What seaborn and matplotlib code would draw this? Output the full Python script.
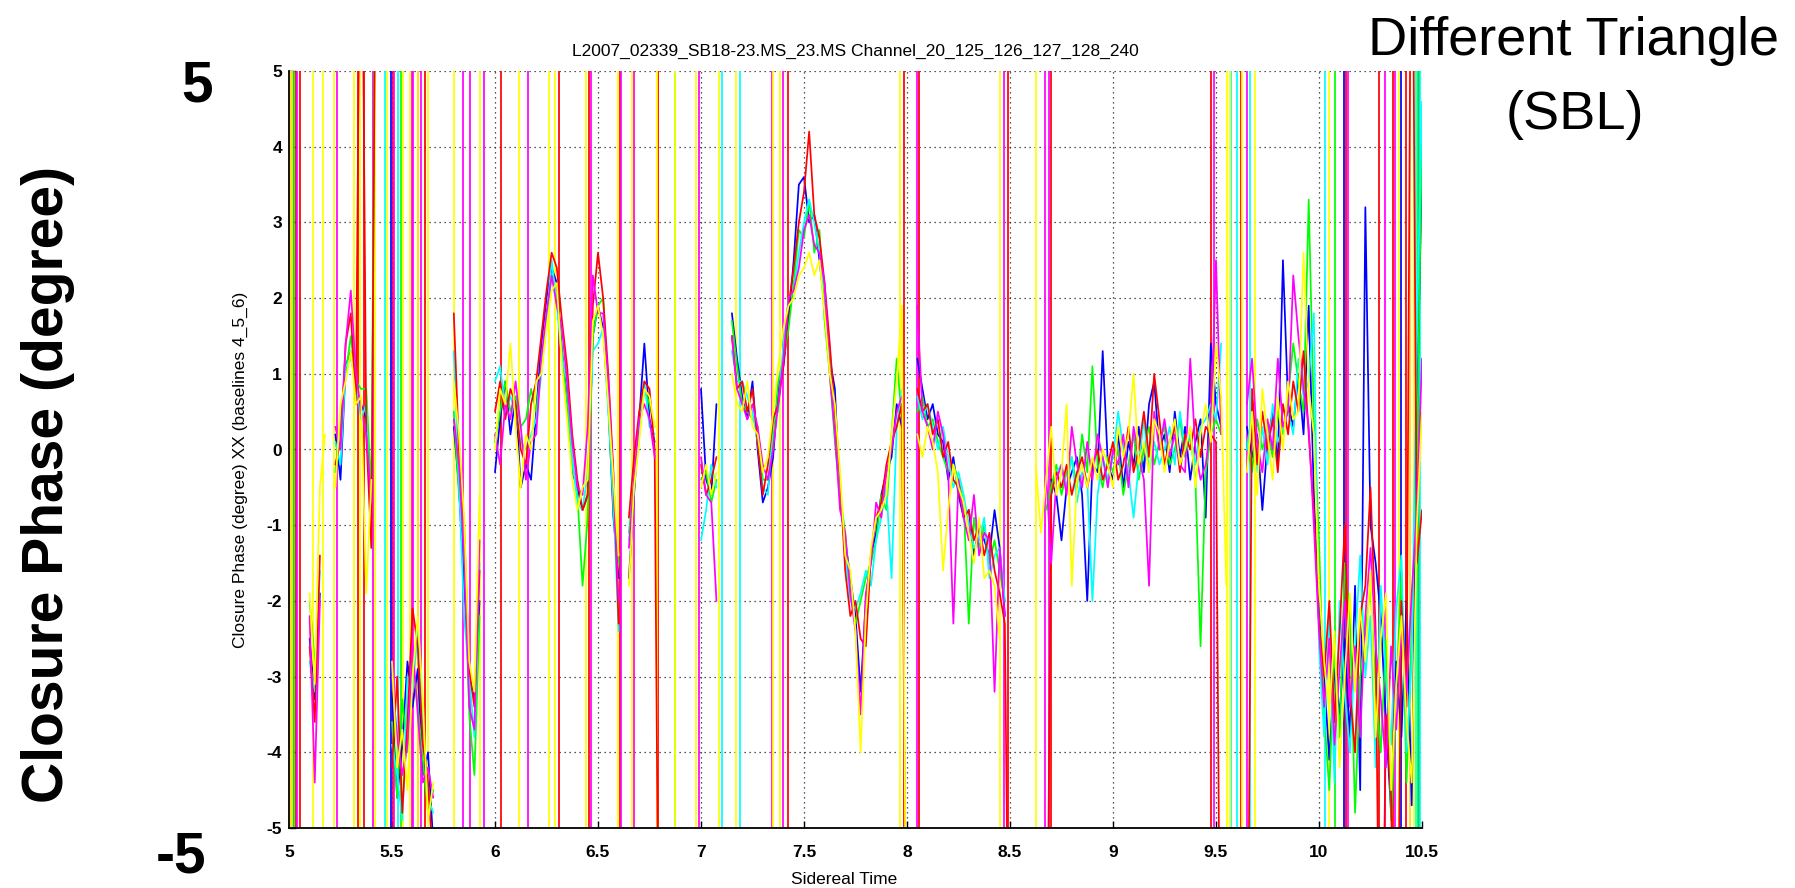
import numpy as np
import pandas as pd
import matplotlib
matplotlib.use("Agg")
import matplotlib.pyplot as plt
import seaborn as sns

nan = np.nan

# Closure phase samples (degree) on a sidereal-time grid starting at 5.0 h, 0.025 h apart.
# Values beyond +/-5 are phase wraps that run off the plotted range.
t_start, t_step = 5.0, 0.025

red = [
    nan, nan, nan, nan, -2.6, -3.6, -1.4, nan, nan, -0.2,
    0.1, 1.4, 1.8, 0.6, 9, 0.2, -1.3, 9, nan, nan,
    -4.2, -3.0, -4.8, -3.6, -2.1, -2.6, -3.9, -4.4, -5.5, nan,
    nan, nan, 1.8, 0.0, -1.0, -2.9, -3.4, -1.6, nan, nan,
    0.5, 0.9, 0.4, 0.8, 0.6, 0.0, -0.2, 0.6, 0.9, 1.5,
    2.1, 2.6, 2.4, 1.7, 1.1, 0.2, -0.4, -0.8, -0.6, 1.9,
    2.6, 2.0, 1.0, -0.3, -2.3, nan, -0.9, -0.1, 0.5, 0.9,
    0.8, 0.0, -9, nan, nan, nan, nan, nan, nan, nan,
    -0.2, -0.6, -0.4, -0.1, nan, nan, 1.5, 0.8, 0.9, 0.5,
    0.8, 0.1, -0.6, -0.2, 0.4, 0.6, 1.1, 1.9, 2.4, 3.0,
    3.4, 4.2, 3.1, 2.8, 2.2, 1.4, 0.5, -0.4, -1.6, -2.2,
    -2.0, -2.5, -2.6, -1.4, -0.9, -0.7, -0.2, 0.1, 0.3, 0.6,
    -9, nan, 0.8, 0.5, 0.6, 0.2, 0.4, -0.1, 0.1, -0.4,
    -0.5, -0.9, -0.8, -1.2, -1.0, -1.4, -1.1, -1.6, -1.9, -2.3,
    -9, nan, nan, nan, nan, nan, nan, -9, -0.6, -0.3,
    -0.5, -0.2, -0.6, -0.3, -0.1, -0.5, -0.2, 0.0, -0.4, -0.2,
    0.1, -0.4, -0.2, 0.3, -0.3, 0.0, 0.5, -0.1, 1.0, 0.4,
    -0.2, 0.1, 0.3, -0.3, 0.2, 0.0, 0.4, -0.1, 0.3, 0.2,
    0.1, -9, nan, nan, nan, nan, -9, 0.8, -0.2, 0.5,
    0.0, 0.4, -0.3, 0.6, 0.2, 0.9, 0.5, 1.3, 0.2, -0.8,
    -2.3, -3.0, -2.0, -3.6, -2.4, -1.0, -3.2, -4.0, -2.2, -1.8,
    -0.5, -2.4, -9, -3.5, -4.6, -9, -2.0, -3.4, 9, -1.5, -0.8,
]

green = [
    nan, nan, nan, nan, -2.0, -2.8, nan, nan, nan, -0.3,
    0.4, 1.0, 1.5, 0.9, 0.8, 0.8, -0.6, 9, nan, nan,
    -3.6, -4.6, -3.3, -4.0, -2.8, -3.4, -4.1, -4.8, -4.5, nan,
    nan, nan, 0.5, -0.6, -1.2, -3.5, -4.3, -2.2, nan, nan,
    0.1, 0.5, 0.9, 0.5, 0.7, 0.3, 0.4, 0.8, 0.5, 1.1,
    1.7, 2.3, 2.0, 1.3, 0.6, -0.2, -0.6, -1.8, -0.9, 1.5,
    1.9, 2.0, 0.7, -0.8, -1.5, nan, -1.1, -0.4, 0.2, 0.8,
    0.6, 0.3, nan, nan, nan, nan, nan, nan, nan, nan,
    -0.4, -0.3, -0.7, -0.4, nan, nan, 1.7, 1.1, 0.6, 0.5,
    0.4, 0.3, -0.4, -0.4, 0.1, 0.9, 1.2, 1.6, 2.2, 2.9,
    2.8, 3.3, 2.6, 2.9, 1.7, 1.0, 0.1, -0.6, -1.1, -1.9,
    -2.3, -2.0, -1.7, -1.5, -1.2, -0.6, -0.8, 0.2, 1.2, 0.4,
    nan, nan, 0.5, 0.7, 0.3, 0.4, 0.1, -0.1, -0.3, -0.2,
    -0.4, -0.7, -2.3, -0.9, -1.3, -1.0, -1.5, -1.2, -1.6, -2.0,
    nan, nan, nan, nan, nan, nan, nan, -0.8, -0.5, -0.2,
    -0.6, -0.3, -0.1, -0.5, 0.2, -0.3, 1.1, -0.2, -0.5, -0.1,
    -0.3, 0.0, -0.6, -0.2, 0.2, -0.4, 0.0, 0.3, -0.2, 0.1,
    0.3, -0.2, 0.0, 0.4, -0.1, 0.2, -0.4, -2.6, -0.3, 0.2,
    0.4, 0.2, nan, nan, nan, nan, 0.1, -0.3, 0.4, 0.0,
    0.3, -0.1, 0.5, 0.2, 0.7, 1.4, 0.9, 0.5, 3.3, 0.4,
    -1.2, -3.5, -4.5, -2.6, -3.8, -1.5, -2.2, -4.8, -3.0, -2.4,
    -1.8, -3.2, -4.0, -2.5, -4.9, -3.2, -1.6, -4.4, -2.4, -0.2, 4.2,
]

blue = [
    nan, nan, nan, nan, -2.5, -3.3, -1.9, nan, nan, 0.2,
    -0.4, 1.1, 1.3, 0.8, 0.6, 0.4, -0.9, nan, nan, nan,
    -3.2, -4.6, -3.9, -2.8, -3.4, -2.9, -4.3, -4.0, -5.2, nan,
    nan, nan, 0.3, -0.5, -1.8, -3.0, -3.3, -2.0, nan, nan,
    -0.3, 0.4, 0.9, 0.2, 0.7, -0.5, -0.2, -0.4, 0.5, 1.4,
    2.0, 2.4, 2.2, 1.3, 0.7, -0.3, -0.5, -0.8, -0.6, 1.5,
    1.9, 1.6, 0.6, -0.9, -1.7, nan, -1.7, -0.6, 0.4, 1.4,
    0.4, 0.1, nan, nan, nan, nan, nan, nan, nan, nan,
    0.8, -0.4, -0.6, 0.6, nan, nan, 1.8, 1.2, 0.7, 0.4,
    0.9, 0.0, -0.7, -0.5, -0.1, 0.8, 1.1, 1.7, 2.5, 3.5,
    3.6, 3.0, 3.1, 2.5, 1.9, 1.2, 0.8, -0.7, -1.2, -1.7,
    -2.2, -3.2, -2.0, -1.4, -1.1, -0.6, -0.3, -0.1, 0.6, 0.3,
    nan, nan, 1.2, 0.8, 0.4, 0.6, 0.2, 0.1, -0.4, -0.1,
    -0.6, -0.9, -0.8, -1.4, -1.0, -1.2, -1.4, -0.8, -1.3, -2.2,
    nan, nan, nan, nan, nan, nan, nan, nan, -0.4, -0.6,
    -1.2, -0.5, -0.3, -0.1, -0.6, -2.0, -0.2, -0.3, 1.3, -0.2,
    -0.4, 0.2, -0.5, 0.1, -0.2, 0.3, -0.3, 0.6, 0.9, 0.0,
    0.2, -0.3, 0.5, -0.1, 0.3, -0.4, 0.1, 0.4, -0.9, 1.4,
    0.6, 0.3, nan, nan, nan, nan, 0.3, -0.1, 0.2, -0.8,
    0.1, 0.5, -0.2, 2.5, 0.6, 0.3, 1.0, 0.2, 1.9, -0.6,
    -2.0, -3.0, -4.1, -2.9, -3.5, -2.5, -3.8, -1.8, -4.5, 3.2,
    -1.0, -1.5, -2.2, -3.6, -4.8, -2.8, -3.8, -2.0, -4.7, 0.4, 3.8,
]

cyan = [
    nan, nan, nan, nan, -2.8, -3.2, -1.6, nan, nan, 0.1,
    -0.2, 1.1, 1.2, 0.9, 0.4, 0.6, -1.3, nan, nan, nan,
    -3.9, -4.3, -4.9, -3.0, -3.2, -2.4, -3.6, -4.6, -4.8, nan,
    nan, nan, 1.3, -0.4, -2.2, -3.0, -3.8, -1.5, nan, nan,
    0.9, 1.1, 0.5, 0.7, 0.5, 0.1, 0.0, 0.2, 0.4, 1.0,
    1.7, 2.5, 1.9, 1.2, 0.9, -0.1, -0.7, -0.8, -0.3, 1.3,
    1.4, 1.6, 0.5, -0.7, -2.4, nan, -1.2, -0.5, 0.2, 0.9,
    0.3, 0.2, nan, nan, nan, nan, nan, nan, nan, nan,
    -1.2, -0.8, -0.2, -0.5, nan, nan, 1.3, 0.9, 0.9, 0.7,
    0.5, 0.1, -0.5, -0.6, 0.4, 0.5, 1.4, 2.0, 2.1, 2.6,
    3.0, 3.3, 3.0, 2.6, 2.1, 1.3, 0.4, -0.5, -1.4, -2.0,
    -2.1, -1.9, -1.6, -1.8, -1.2, -0.9, -0.5, -1.7, 0.3, 0.8,
    nan, nan, 0.7, 0.4, 0.6, 0.3, 0.0, 0.3, -0.1, -0.5,
    -0.3, -0.6, -1.0, -1.3, -1.2, -0.9, -1.7, -1.4, -1.3, -2.0,
    nan, nan, nan, nan, nan, nan, nan, nan, -0.6, -0.3,
    -0.2, -0.5, -0.1, -0.7, -0.3, -0.4, -2.0, -0.6, -0.1, -0.4,
    -0.1, 0.5, 0.0, -0.3, -0.9, -0.2, 0.4, -0.3, 0.1, -0.2,
    0.0, 0.3, -0.2, 0.5, 0.0, 0.2, -0.2, 0.3, 0.4, 0.6,
    0.4, 1.4, nan, nan, nan, nan, 0.0, 0.5, -0.3, 0.3,
    -0.2, 0.6, 0.1, 0.3, 0.5, 0.2, 1.2, 0.7, 0.9, 1.8,
    -2.6, -3.8, -2.2, -4.4, -2.0, -3.2, -4.0, -2.6, -1.4, -3.0,
    -2.2, -4.2, -1.8, -3.0, -3.9, -2.1, -1.4, -4.0, -2.8, 1.5, 4.6,
]

magenta = [
    nan, nan, nan, nan, -2.2, -4.4, -2.0, nan, nan, 0.3,
    0.0, 1.4, 2.1, 1.0, 0.5, 0.2, -0.7, nan, nan, nan,
    -3.0, -3.8, -4.3, -3.9, -2.6, -3.5, -4.4, -4.2, -4.6, nan,
    nan, nan, 0.4, -0.2, -1.4, -3.4, -3.7, -1.2, nan, nan,
    0.2, -0.2, 0.6, 0.4, 0.9, 0.3, -0.4, 0.1, 0.2, 1.2,
    1.8, 2.3, 1.9, 1.6, 0.9, 0.1, -0.5, -0.6, 0.3, 2.3,
    1.8, 1.8, 0.9, -0.4, -2.0, nan, -1.3, -0.4, 0.4, 0.6,
    0.4, -0.1, nan, nan, nan, nan, nan, nan, nan, nan,
    -0.1, -0.6, -0.7, -2.0, nan, nan, 1.5, 0.8, 0.6, 0.4,
    0.6, 0.3, -0.2, -0.4, 0.0, 0.6, 1.2, 2.0, 2.1, 2.4,
    2.9, 3.1, 2.7, 2.6, 2.2, 1.0, 0.2, -0.8, -1.1, -1.9,
    -2.4, -3.5, -1.9, -1.5, -0.7, -0.9, -0.3, 0.0, 0.5, 0.7,
    nan, nan, 1.9, 0.5, 0.3, 0.0, 0.5, 0.2, -0.3, -2.3,
    -0.4, -0.9, -1.2, -0.6, -1.4, -1.1, -1.2, -3.2, -1.3, -2.2,
    nan, nan, nan, nan, nan, nan, nan, -0.3, -1.5, -0.4,
    -0.2, -0.6, 0.3, -0.2, -0.5, 0.1, -0.4, 0.2, -0.1, -0.5,
    0.0, -0.2, 0.2, -0.5, 0.3, -0.1, -0.4, -1.8, 0.5, 0.0,
    0.4, -0.1, 0.2, -0.2, -0.3, 1.2, 0.0, -0.4, -0.2, 0.3,
    2.5, 0.2, nan, nan, nan, nan, 0.6, 1.2, 0.1, -0.3,
    0.4, 0.0, 1.2, 0.3, 0.5, 2.3, 1.5, 0.8, 0.3, -1.0,
    -2.4, -3.4, -2.5, -3.9, -2.9, -2.0, -3.4, -2.6, -3.8, -2.2,
    -1.3, -2.6, -3.3, -4.2, -2.6, -3.7, -2.4, -3.2, -1.9, -0.8, 1.2,
]

yellow = [
    nan, nan, nan, nan, -1.9, -3.1, -0.5, 0.2, nan, -0.5,
    0.6, 0.9, 1.3, 0.6, 0.7, -1.9, -0.4, nan, nan, nan,
    -2.8, -4.2, -3.7, -4.5, -3.0, -2.2, -3.3, -4.9, -4.4, nan,
    nan, nan, 0.9, 0.2, -0.9, -2.8, -3.2, -0.6, nan, nan,
    0.0, 0.8, 0.6, 1.4, 0.3, -0.5, 0.2, 0.0, 0.9, 1.0,
    1.6, 2.1, 2.2, 1.1, 0.4, -0.4, -0.8, -0.5, -0.4, 1.7,
    1.9, 1.5, 0.6, -0.4, -1.4, nan, -1.8, -0.5, 0.1, 0.8,
    0.7, 0.3, nan, nan, nan, nan, nan, nan, nan, nan,
    -0.5, -0.2, -0.6, -0.3, nan, nan, 1.0, 0.6, 0.5, 0.9,
    0.3, 0.2, -0.3, -0.1, 0.5, 1.1, 1.6, 1.9, 2.0, 2.3,
    2.4, 2.6, 2.3, 2.5, 1.8, 1.0, 0.6, -0.3, -1.4, -1.6,
    -2.4, -4.0, -2.2, -1.3, -0.9, -0.8, -0.6, 0.2, 0.9, 1.9,
    -9, nan, 0.2, -0.1, 0.3, 0.1, -0.3, -1.6, -0.8, -0.2,
    -0.5, -0.7, -1.1, -1.5, -0.9, -1.7, -1.6, -1.8, -2.5, nan,
    nan, nan, nan, nan, nan, -0.2, -1.1, -0.4, 0.3, -0.6,
    -0.3, 0.6, -1.8, -0.4, -0.2, -0.5, -0.1, -0.4, 0.0, -0.2,
    -0.5, 0.3, -0.1, 0.2, 1.0, -0.2, 0.1, -0.3, 0.4, 0.2,
    -0.3, 0.1, 0.4, -0.2, 0.0, 0.3, -0.5, 0.2, 0.6, 0.1,
    1.4, 0.7, -1.8, nan, nan, nan, -0.3, 0.5, -0.6, 0.8,
    0.2, -0.4, 0.7, 0.0, 0.9, 0.4, 0.5, 2.6, 0.8, 0.2,
    -1.8, -2.8, -3.5, -2.4, -4.2, -3.0, -1.9, -3.2, -2.1, -2.8,
    -1.6, -3.8, -2.5, -1.9, -4.5, -3.1, -2.2, -3.6, -4.4, -1.0, 0.5,
]

# Sidereal times of full-range phase wraps, per trace
wraps_red = [5.035, 5.055, 5.335, 5.362, 5.505, 5.625, 5.66, 6.03, 6.31, 6.455,
             6.605, 6.79, 7.42, 7.985, 8.06, 8.49, 8.70, 9.475, 9.62, 10.13,
             10.29, 10.36, 10.42]
wraps_yellow = [5.005, 5.015, 5.117, 5.163, 5.217, 5.316, 5.343, 5.418, 5.476,
                5.555, 5.585, 5.625, 5.675, 5.80, 5.928, 6.115, 6.26, 6.29, 6.44,
                6.595, 6.665, 6.785, 6.875, 6.976, 7.087, 7.17, 7.35, 7.384,
                7.965, 8.45, 8.625, 9.555, 9.57, 9.625, 9.69, 10.05, 10.39,
                10.44, 10.46]
wraps_magenta = [5.01, 5.04, 5.232, 5.41, 5.51, 5.595, 5.60, 5.64, 5.845, 5.878,
                 5.947, 6.16, 6.465, 6.61, 6.675, 6.99, 7.343, 7.40, 8.05, 8.47,
                 8.67, 8.69, 9.49, 9.65, 10.14, 10.32, 10.37, 10.44]
wraps_cyan = [5.464, 5.53, 7.10, 7.19, 9.575, 9.60, 9.665, 10.03, 10.47, 10.49]
wraps_green = [5.025, 5.545, 6.875, 10.08, 10.48]
wraps_blue = [5.02, 5.495, 10.12, 10.40, 10.485]

x_ticks = [5, 5.5, 6, 6.5, 7, 7.5, 8, 8.5, 9, 9.5, 10, 10.5]
x_tick_labels = ["5", "5.5", "6", "6.5", "7", "7.5", "8", "8.5", "9", "9.5", "10", "10.5"]
y_ticks = [-5, -4, -3, -2, -1, 0, 1, 2, 3, 4, 5]
y_tick_labels = ["-5", "-4", "-3", "-2", "-1", "0", "1", "2", "3", "4", "5"]

title = "L2007_02339_SB18-23.MS_23.MS Channel_20_125_126_127_128_240"
inner_ylabel = "Closure Phase (degree) XX (baselines 4_5_6)"
xlabel = "Sidereal Time"

# ---------------------------------------------------------------------------
sns.set_theme(style="white")
plt.rcParams["font.family"] = ["Liberation Sans", "DejaVu Sans"]
plt.rcParams.update({"text.color": "black", "axes.labelcolor": "black",
                     "xtick.color": "black", "ytick.color": "black"})

palette = {"blue": "#0000ff", "green": "#00ff00", "cyan": "#00ffff",
           "red": "#ff0000", "magenta": "#ff00ff", "yellow": "#ffff00"}
traces = {"blue": blue, "green": green, "cyan": cyan,
          "red": red, "magenta": magenta, "yellow": yellow}
wraps = {"blue": wraps_blue, "green": wraps_green, "cyan": wraps_cyan,
         "red": wraps_red, "magenta": wraps_magenta, "yellow": wraps_yellow}

frames = []
for name, vals in traces.items():
    vals = np.asarray(vals, dtype=float)
    t = t_start + t_step * np.arange(len(vals))
    valid = ~np.isnan(vals)
    seg = np.cumsum(~valid)          # a gap starts a new line segment
    frames.append(pd.DataFrame({
        "trace": name,
        "segment": [f"{name}_{s}" for s in seg[valid]],
        "time": t[valid],
        "phase": vals[valid],
    }))
df = pd.concat(frames, ignore_index=True)

W, H = 1795, 888
fig = plt.figure(figsize=(W / 100, H / 100), dpi=100)
ax_l, ax_r, ax_t, ax_b = 289, 1422, 71, 828
ax = fig.add_axes([ax_l / W, 1 - ax_b / H, (ax_r - ax_l) / W, (ax_b - ax_t) / H])

lw = 1.25
for name, xs in wraps.items():
    ax.vlines(xs, -5, 5, colors=palette[name], lw=lw, zorder=1.5)

sns.lineplot(data=df, x="time", y="phase", hue="trace", units="segment",
             estimator=None, sort=False, palette=palette,
             hue_order=list(traces.keys()), legend=False, lw=lw, ax=ax, zorder=2)

ax.set_xlim(5, 10.5)
ax.set_ylim(-5, 5)
ax.set_xticks(x_ticks, x_tick_labels)
ax.set_yticks(y_ticks, y_tick_labels)
ax.set_xlabel("")
ax.set_ylabel("")
ax.grid(True, color="#222222", linestyle=(0, (1, 3)), lw=0.9)
ax.set_axisbelow(True)
for side in ("top", "right"):
    ax.spines[side].set_visible(False)
for side in ("left", "bottom"):
    ax.spines[side].set_color("black")
    ax.spines[side].set_linewidth(1.3)
    ax.spines[side].set_zorder(3)
ax.tick_params(axis="both", direction="in", length=5, width=1, colors="black",
               labelsize=12.5, left=True, bottom=True)
ax.tick_params(axis="x", pad=12.5)
ax.tick_params(axis="y", pad=5)
for lab in ax.get_xticklabels() + ax.get_yticklabels():
    lab.set_fontweight("bold")


def ft(px, py, s, **kw):
    fig.text(px / W, 1 - py / H, s, color="black", **kw)


ft((ax_l + ax_r) / 2, 51, title, ha="center", va="center", fontsize=12.5)
ft(240, 470, inner_ylabel, ha="center", va="center", rotation=90, fontsize=12.5)
ft(844, 879, xlabel, ha="center", va="center", fontsize=12.5)

ft(197, 101, "5", ha="center", va="baseline", fontsize=41, fontweight="bold")
ft(181, 872, "-5", ha="center", va="baseline", fontsize=41, fontweight="bold")
ft(48, 484, "Closure Phase (degree)", ha="center", va="center", rotation=90,
   fontsize=41, fontweight="bold")
ft(1574, 55, "Different Triangle", ha="center", va="baseline", fontsize=39)
ft(1575, 129, "(SBL)", ha="center", va="baseline", fontsize=39)

fig.savefig("out.png", dpi=100, facecolor="white")
